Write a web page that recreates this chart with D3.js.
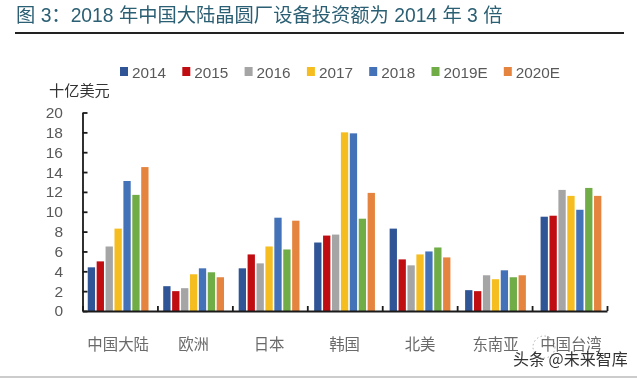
<!DOCTYPE html>
<html lang="zh-CN">
	<head>
		<meta charset="utf-8">
		<title>图 3</title>
		<script src="https://cdn.jsdelivr.net/npm/d3@7"></script>
		<style>
			html, body { margin: 0; padding: 0; background: #fff; overflow: hidden; }
			svg { display: block; font-family: "Liberation Sans", "Noto Sans CJK SC", sans-serif; filter: blur(0.35px); }
			.y_axis text { font-size: 15.5px; fill: #595959; }
			.x_labels text { font-size: 15.4px; fill: #6a6a6a; font-family: "Noto Sans CJK SC", sans-serif; }
			.y_axis path, .y_axis line, .x_axis path, .x_axis line { stroke: #1a1a1a; stroke-width: 1.8; }
		</style>
	</head>
	<body>
		<script>
			var categories = ["中国大陆", "欧洲", "日本", "韩国", "北美", "东南亚", "中国台湾"];
			var seriesNames = ["2014", "2015", "2016", "2017", "2018", "2019E", "2020E"];
			var seriesColors = ["#2f5597", "#c00d12", "#a5a5a5", "#f5bd1f", "#4472b8", "#70ad47", "#e5843e"];
			var yTicks = [0, 2, 4, 6, 8, 10, 12, 14, 16, 18, 20];

			// one list per year, same order as categories
			var v2014 = [4.4, 2.5, 4.3, 6.9, 8.3, 2.1, 9.5];
			var v2015 = [5.0, 2.0, 5.7, 7.6, 5.2, 2.0, 9.6];
			var v2016 = [6.5, 2.3, 4.8, 7.7, 4.6, 3.6, 12.2];
			var v2017 = [8.3, 3.7, 6.5, 18.0, 5.7, 3.2, 11.6];
			var v2018 = [13.1, 4.3, 9.4, 17.9, 6.0, 4.1, 10.2];
			var v2019 = [11.7, 3.9, 6.2, 9.3, 6.4, 3.4, 12.4];
			var v2020 = [14.5, 3.4, 9.1, 11.9, 5.4, 3.6, 11.6];
			var seriesValues = [v2014, v2015, v2016, v2017, v2018, v2019, v2020];

			var w = 640, h = 378;
			var svg = d3.select("body").append("svg").attr("width", w).attr("height", h);

			// heading
			svg.append("text").text("图 3：2018 年中国大陆晶圆厂设备投资额为 2014 年 3 倍")
				.attr("x", 16).attr("y", 21.5)
				.style("font-size", "19.3px").style("fill", "#2b5f73");
			svg.append("line").attr("x1", 15).attr("x2", 624).attr("y1", 33).attr("y2", 33)
				.attr("stroke", "#222").attr("stroke-width", 2);

			// scales
			var xScale = d3.scaleBand().domain(categories).range([80.4, 608.7]);
			var inner = d3.scaleBand().domain(seriesNames)
				.range([7.35, xScale.bandwidth() - 7.35]).paddingInner(0.18).paddingOuter(0);
			var yScale = d3.scaleLinear().domain([0, 20]).range([311, 112.5]);
			// the axis line and its marks run slightly narrower than the bar groups
			var edgeScale = d3.scaleLinear().domain([0, categories.length]).range([82.5, 607]);

			// bars
			var groups = svg.selectAll("g.series")
				.data(seriesNames).enter().append("g")
				.attr("class", "series")
				.attr("fill", function(d, i) { return seriesColors[i]; });
			groups.selectAll("rect")
				.data(function(d, i) {
					return seriesValues[i].map(function(v, j) {
						return { cat: categories[j], name: d, value: v };
					});
				})
				.enter().append("rect")
				.attr("x", function(d) { return xScale(d.cat) + inner(d.name); })
				.attr("width", inner.bandwidth())
				.attr("y", function(d) { return yScale(d.value); })
				.attr("height", function(d) { return yScale(0) - yScale(d.value); });

			// axes
			var yAxis = d3.axisLeft(yScale).tickValues(yTicks).tickSize(-5).tickPadding(19.5).tickSizeOuter(0);
			svg.append("g").attr("class", "y_axis")
				.attr("transform", "translate(82.5,0)").call(yAxis);

			var xAxis = d3.axisBottom(edgeScale).ticks(categories.length).tickSize(-5).tickSizeOuter(0).tickFormat("");
			svg.append("g").attr("class", "x_axis")
				.attr("transform", "translate(0,311)").call(xAxis);

			var xLabels = d3.axisBottom(xScale).tickSize(0).tickPadding(28);
			svg.append("g").attr("class", "x_labels")
				.attr("transform", "translate(0,311)").call(xLabels)
				.call(function(g) { g.select(".domain").remove(); });

			svg.append("text").text("十亿美元")
				.attr("x", 49).attr("y", 96)
				.style("font-size", "15.2px").style("fill", "#333")
				.style("font-family", "'Noto Sans CJK SC', sans-serif");

			// legend, entries with the longer E label take more room
			var legendLeft = 120;
			var legend = svg.selectAll("g.legend")
				.data(seriesNames).enter().append("g")
				.attr("class", "legend")
				.attr("transform", function(d) {
					var x = legendLeft;
					legendLeft += d.length * 10 + 22.3;
					return "translate(" + x + ",72)";
				});
			legend.append("rect")
				.attr("x", 0).attr("y", -5).attr("width", 8).attr("height", 9)
				.attr("fill", function(d, i) { return seriesColors[i]; });
			legend.append("text").text(function(d) { return d; })
				.attr("x", 12).attr("y", 5.7)
				.style("font-size", "15.3px").style("fill", "#595959");

			// watermark and the bottom rule
			svg.append("circle").attr("cx", 544).attr("cy", 347).attr("r", 11)
				.attr("fill", "none").attr("stroke", "#aaa").attr("stroke-width", 1)
				.attr("stroke-dasharray", "1.5 2.5");
			svg.append("text").text("头条 @未来智库")
				.attr("x", 513).attr("y", 365)
				.style("font-size", "16px").style("fill", "#333")
				.style("font-family", "'Noto Sans CJK SC', sans-serif");
			svg.append("line").attr("x1", 0).attr("x2", 637).attr("y1", 377).attr("y2", 377)
				.attr("stroke", "#999").attr("stroke-width", 1);
		</script>
	</body>
</html>
